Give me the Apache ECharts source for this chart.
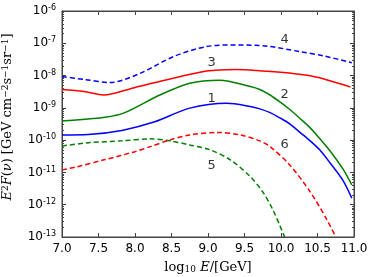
<!DOCTYPE html>
<html><head><meta charset="utf-8">
<script src="https://cdn.jsdelivr.net/npm/echarts@6/dist/echarts.min.js"></script>
<style>html,body{margin:0;padding:0;background:#fff}#c{width:374px;height:277px}</style>
</head><body><div id="c"></div>
<script>
// log10 E/[GeV] and E^2F values for each curve
const e1 = [7.0, 7.36, 7.82, 8.27, 8.75, 9.26, 9.58, 9.71, 9.85, 9.99, 10.12, 10.26, 10.40, 10.53, 10.67, 10.85, 10.97];
const f1 = [1.45e-10, 1.5e-10, 2.0e-10, 3.7e-10, 9.8e-10, 1.38e-9, 1.1e-9, 9.3e-10, 7.1e-10, 4.8e-10, 3.2e-10, 1.74e-10, 9.5e-11, 5.0e-11, 2.0e-11, 5.6e-12, 1.6e-12];
const e2 = [7.0, 7.59, 7.86, 8.34, 8.75, 9.16, 9.58, 9.71, 9.85, 9.99, 10.12, 10.26, 10.40, 10.53, 10.67, 10.85, 10.97];
const f2 = [3.9e-10, 5.1e-10, 7.1e-10, 2.5e-9, 5.8e-9, 7.2e-9, 4.6e-9, 3.7e-9, 2.5e-9, 1.5e-9, 8.9e-10, 4.7e-10, 2.4e-10, 1.12e-10, 4.7e-11, 1.26e-11, 4.1e-12];
const e3 = [7.0, 7.3, 7.57, 8.0, 8.41, 8.98, 9.37, 9.71, 10.4, 10.95];
const f3 = [3.7e-9, 3.2e-9, 2.5e-9, 4.3e-9, 7.2e-9, 1.38e-8, 1.55e-8, 1.41e-8, 9.8e-9, 4.4e-9];
const e4 = [7.0, 7.3, 7.66, 8.07, 8.53, 8.98, 9.39, 9.8, 10.26, 10.6, 10.97];
const f4 = [9.3e-9, 7.6e-9, 6.1e-9, 1.17e-8, 3.9e-8, 7.9e-8, 8.9e-8, 8.2e-8, 5.5e-8, 4.0e-8, 2.5e-8];
const e5 = [7.0, 7.36, 7.82, 8.21, 8.48, 8.75, 9.03, 9.3, 9.58, 9.76, 9.89, 9.99, 10.05];
const f5 = [6.6e-11, 8.3e-11, 9.5e-11, 1.1e-10, 9.5e-11, 7.1e-11, 5.0e-11, 2.5e-11, 7.4e-12, 2.3e-12, 6.9e-13, 2.1e-13, 1.0e-13];
const e6 = [7.0, 7.18, 7.59, 8.0, 8.21, 8.48, 8.75, 9.12, 9.44, 9.71, 9.85, 10.12, 10.40, 10.63, 10.75];
const f6 = [1.2e-11, 1.45e-11, 2.5e-11, 4.4e-11, 6.3e-11, 1.02e-10, 1.45e-10, 1.74e-10, 1.45e-10, 9.5e-11, 6.3e-11, 1.7e-11, 2.5e-12, 3.4e-13, 1.0e-13];
const curveLabels = ['1', '2', '3', '4', '5', '6'];
const labelE = [9.05, 10.05, 9.05, 10.05, 9.05, 10.05];
const labelF = [2.0e-9, 2.5e-9, 2.6e-8, 1.26e-7, 1.6e-11, 7.1e-11];
const xTicks = ['7.0', '7.5', '8.0', '8.5', '9.0', '9.5', '10.0', '10.5', '11.0'];

const zip = (a, b) => a.map((v, i) => [v, b[i]]);
const mk = (e, f, color, dashed) => ({
  type: 'line', data: zip(e, f), smooth: 0.3, symbol: 'none', silent: true,
  lineStyle: { color: color, width: 1.5, type: dashed ? [5, 3] : 'solid' }
});
const axisCol = '#444';
const serif = 'DejaVu Serif';
const nameRich = {
  n: { fontFamily: serif, fontSize: 13, color: '#000' },
  i: { fontFamily: serif, fontStyle: 'italic', fontSize: 13, color: '#000' },
  s: { fontFamily: serif, fontSize: 9, color: '#000', verticalAlign: 'top', lineHeight: 8, padding: [0, 0, 7, 0] },
  d: { fontFamily: serif, fontSize: 9, color: '#000', verticalAlign: 'bottom', lineHeight: 8, padding: [5, 0, 0, 0] }
};
const chart = echarts.init(document.getElementById('c'), null, { renderer: 'canvas' });
chart.setOption({
  animation: false,
  grid: { left: 62, right: 20, top: 11, bottom: 40, show: true, borderColor: axisCol, borderWidth: 1,
    containLabel: false, outerBoundsMode: 'none' },
  xAxis: [{
    type: 'value', min: 7, max: 11, interval: 0.5,
    name: '{n|log}{d|10}{n| }{i|E}{n|/[GeV]}', nameLocation: 'middle', nameGap: 17,
    nameTextStyle: { rich: nameRich },
    axisLine: { show: true, lineStyle: { color: axisCol } },
    axisTick: { show: true, inside: true, length: 4, lineStyle: { color: axisCol } },
    axisLabel: { fontFamily: 'DejaVu Sans', fontSize: 12, color: '#000', margin: 6,
      formatter: v => xTicks[Math.round((v - 7) / 0.5)] },
    splitLine: { show: false }
  }, {
    type: 'value', min: 7, max: 11, interval: 0.5, position: 'top',
    axisLine: { show: true, lineStyle: { color: axisCol } },
    axisTick: { show: true, inside: true, length: 4, lineStyle: { color: axisCol } },
    axisLabel: { show: false }, splitLine: { show: false }
  }],
  yAxis: [{
    type: 'log', logBase: 10, min: 1e-13, max: 1e-6,
    name: '{i|E}{s|2}{i|F}{n|(}{i|ν}{n|) [GeV cm}{s|−2}{n|s}{s|−1}{n|sr}{s|−1}{n|]}',
    nameLocation: 'middle', nameGap: 42,
    nameTextStyle: { rich: nameRich, padding: [0, 0, 0, 14] },
    axisLine: { show: true, lineStyle: { color: axisCol } },
    axisTick: { show: true, inside: true, length: 4, lineStyle: { color: axisCol } },
    minorTick: { show: true, splitNumber: 9, length: 2, lineStyle: { color: axisCol } },
    axisLabel: { color: '#000', margin: 6,
      formatter: v => '{a|10}{b|' + Math.round(Math.log10(v)) + '}',
      rich: {
        a: { fontFamily: 'DejaVu Sans', fontSize: 12, color: '#000', lineHeight: 14 },
        b: { fontFamily: 'DejaVu Sans', fontSize: 8, color: '#000', verticalAlign: 'top', lineHeight: 8, padding: [0, 0, 6, 0] }
      } },
    splitLine: { show: false }
  }, {
    type: 'log', logBase: 10, min: 1e-13, max: 1e-6, position: 'right',
    axisLine: { show: true, lineStyle: { color: axisCol } },
    axisTick: { show: true, inside: true, length: 4, lineStyle: { color: axisCol } },
    minorTick: { show: true, splitNumber: 9, length: 2, lineStyle: { color: axisCol } },
    axisLabel: { show: false }, splitLine: { show: false }
  }],
  series: [
    mk(e1, f1, '#0000ff', false),
    mk(e2, f2, '#008000', false),
    mk(e3, f3, '#ff0000', false),
    mk(e4, f4, '#0000ff', true),
    mk(e5, f5, '#008000', true),
    mk(e6, f6, '#ff0000', true),
    {
      type: 'scatter', symbolSize: 0, silent: true,
      data: labelE.map((e, i) => ({ value: [e, labelF[i]], name: curveLabels[i] })),
      label: { show: true, position: 'inside', formatter: p => p.name,
        fontFamily: 'DejaVu Sans', fontSize: 13, color: '#000' }
    }
  ]
});
</script></body></html>
